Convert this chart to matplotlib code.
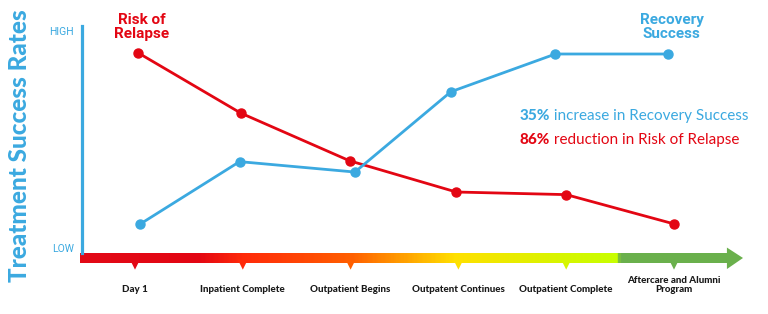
import numpy as np
import matplotlib.pyplot as plt
from matplotlib.colors import LinearSegmentedColormap

# stages along the timeline arrow
stages = ['Day 1', 'Inpatient Complete', 'Outpatient Begins', 'Outpatent Continues',
          'Outpatient Complete', 'Aftercare and Alumni\nProgram']
stage_pos = [0, 1, 2, 3, 4, 5]

# relative level (0 = LOW, 100 = HIGH)
relapse_x = [0.03, 0.98, 1.99, 2.98, 4.0, 5.0]
relapse_y = [89.9, 62.2, 40.2, 25.8, 24.6, 11.1]
recovery_x = [0.05, 0.97, 2.04, 2.93, 3.9, 4.94]
recovery_y = [11.1, 39.8, 35.0, 72.0, 89.4, 89.4]

BLUE = '#3BA9E0'
RED = '#E30613'
GREEN = '#6AB04C'

fig = plt.figure(figsize=(7.68, 3.14), dpi=100)
# axes box in pixels: x 80..750, y 24..272
ax = fig.add_axes([80/768, 1-272/314, 670/768, 248/314])
ax.set_xlim((80-135)/107.8, (750-135)/107.8)
ax.set_ylim((248-272)/2.17, (248-24)/2.17)

for s in ['top', 'right', 'bottom']:
    ax.spines[s].set_visible(False)
ax.spines['left'].set_position(('data', (82-135)/107.8))
ax.spines['left'].set_bounds(-2.3, 102.5)
ax.spines['left'].set_color(BLUE)
ax.spines['left'].set_linewidth(2.3)

cond = ['Roboto', 'DejaVu Sans']
ax.set_xticks([])
ax.set_yticks([0, 100])
ax.set_yticklabels(['LOW', 'HIGH'], fontfamily=cond, fontsize=7.5)
ax.tick_params(axis='y', length=0, pad=6, labelcolor=BLUE)

# gradient timeline bar
grad = LinearSegmentedColormap.from_list('timeline', [
    (0.0, '#E20A17'), (0.18, '#E30613'), (0.25, '#FF2A0A'), (0.42, '#FF6000'),
    (0.48, '#FF9000'), (0.58, '#FFE000'), (0.74, '#D8F500'), (0.832, '#C8FF00'),
    (0.836, GREEN), (1.0, GREEN)])
x0, x1 = (80-135)/107.8, (728-135)/107.8
ax.imshow(np.linspace(0, 1, 400).reshape(1, -1), cmap=grad, aspect='auto',
          extent=[x0, x1, -6.9, -2.3], zorder=1)
ax.fill([x1 - 0.01, (743-135)/107.8, x1 - 0.01], [0.2, -4.6, -9.7],
        color=GREEN, lw=0, zorder=1)
tick_c = [grad(((p*107.8+135) - 80) / 648) for p in stage_pos]
ax.scatter(stage_pos, [-7.6]*6, marker='v', s=55, c=tick_c, lw=0, zorder=2, clip_on=False)

for p, lab in zip(stage_pos, stages):
    ax.text(p, -21.2, lab, ha='center', va='bottom', fontsize=7.0, fontweight='black',
            fontfamily=['Lato', 'DejaVu Sans'], linespacing=1.0, color='#1a1a1a',
            clip_on=False)

ax.plot(relapse_x, relapse_y, color=RED, lw=2, marker='o', ms=6.5, zorder=3)
ax.plot(recovery_x, recovery_y, color=BLUE, lw=2, marker='o', ms=6.5, zorder=3)

ax.text(0.06, 101.8, 'Risk of\nRelapse', ha='center', va='center', color=RED,
        fontsize=11, fontweight='bold', fontfamily=cond, linespacing=0.95)
ax.text(4.98, 101.8, 'Recovery\nSuccess', ha='center', va='center', color=BLUE,
        fontsize=11, fontweight='bold', fontfamily=cond, linespacing=0.95)

body = ['Lato', 'DejaVu Sans']
t1 = ax.text(3.57, 60.8, '35%', color=BLUE, fontsize=11, fontweight='black',
             fontfamily=body, va='center')
ax.annotate(' increase in Recovery Success', xy=(1, 0), xycoords=t1, va='bottom',
            color=BLUE, fontsize=11, fontfamily=body)
t2 = ax.text(3.57, 49.8, '86%', color=RED, fontsize=11, fontweight='black',
             fontfamily=body, va='center')
ax.annotate(' reduction in Risk of Relapse', xy=(1, 0), xycoords=t2, va='bottom',
            color=RED, fontsize=11, fontfamily=body)

fig.text(20/768, 1-146/314, 'Treatment Success Rates', rotation=90, ha='center', va='center',
         color=BLUE, fontsize=17.5, fontweight='black', fontfamily=body)

fig.savefig('out.png', dpi=100)
